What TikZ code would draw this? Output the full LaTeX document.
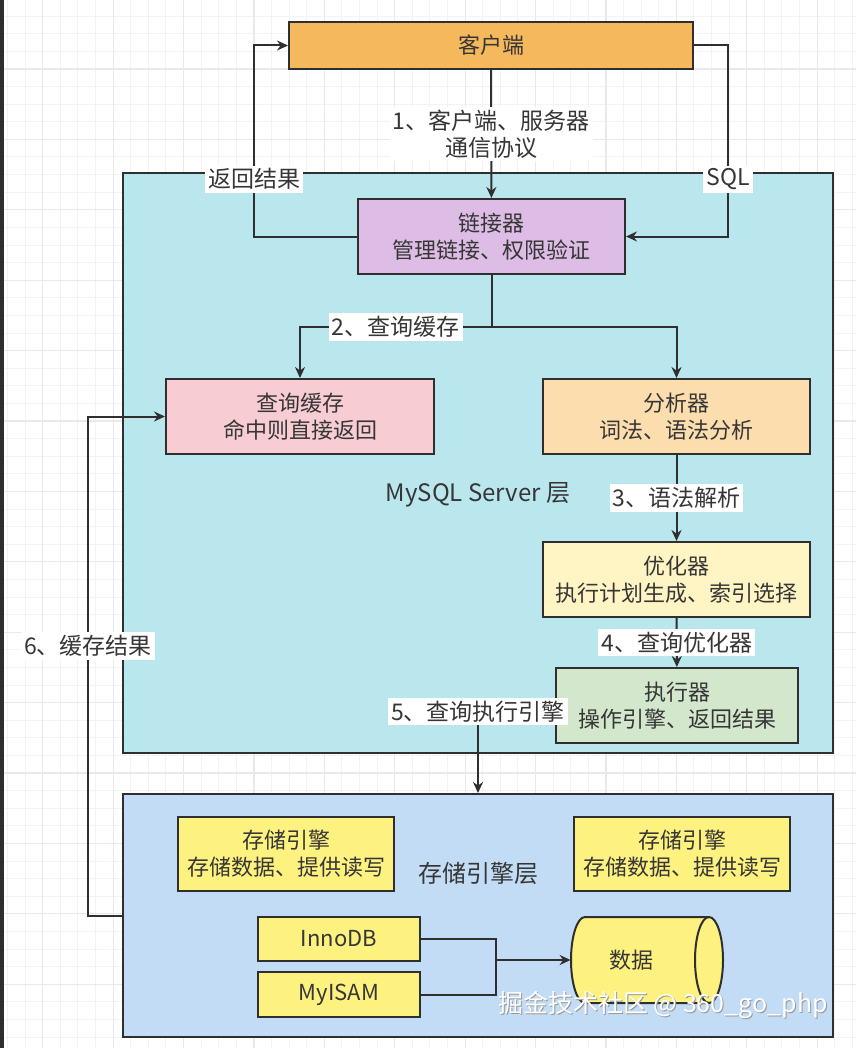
\documentclass[tikz,border=0pt]{standalone}
\usepackage{fontspec}
\setmainfont{Noto Sans CJK SC}
\usetikzlibrary{arrows.meta}
\definecolor{txtc}{HTML}{363636}
\definecolor{linec}{HTML}{2F2F2F}
\definecolor{clientc}{HTML}{F5B85D}
\definecolor{connc}{HTML}{DDBDE5}
\definecolor{serverc}{HTML}{BAE6EE}
\definecolor{cachec}{HTML}{F7CDD3}
\definecolor{analyc}{HTML}{FBDDAE}
\definecolor{optc}{HTML}{FFF4C4}
\definecolor{execc}{HTML}{D3E7CD}
\definecolor{storec}{HTML}{C2DCF5}
\definecolor{enginec}{HTML}{FDF17F}
\definecolor{gridminor}{HTML}{F3F3F3}
\definecolor{gridmajor}{HTML}{E9E9E9}
\definecolor{barc}{HTML}{2E2E2E}

\begin{document}
\begin{tikzpicture}[x=0.5pt, y=-0.5pt,
        font=\fontsize{11.5}{13.5}\selectfont, text=txtc,
        box/.style={draw=linec, line width=1pt, inner sep=0pt, align=center, minimum height=37.5pt,
            font=\fontsize{11}{13.5}\selectfont},
        layerbox/.style={draw=linec, line width=1pt, inner sep=0pt},
        line/.style={draw=linec, line width=1pt},
        arr/.style={line, -{Stealth[length=5.5pt, width=5pt]}},
        lbl/.style={fill=white, inner sep=1.5pt, align=center}]
    \useasboundingbox (0,0) rectangle (856,1048);
    \fill[white] (0,0) rectangle (856,1048);

    % grid
    \foreach \i in {0,...,48}
        \draw[gridminor, line width=0.5pt] ({7.5+17.6*\i},0) -- ({7.5+17.6*\i},1048);
    \foreach \i in {-3,...,55}
        \draw[gridminor, line width=0.5pt] (0,{69+17.6*\i}) -- (856,{69+17.6*\i});
    \foreach \i in {0,...,11}
        \draw[gridmajor, line width=0.6pt] ({42.7+70.4*\i},0) -- ({42.7+70.4*\i},1048);
    \foreach \i in {-1,...,14}
        \draw[gridmajor, line width=0.6pt] (0,{69+70.4*\i}) -- (856,{69+70.4*\i});
    \fill[barc] (0,0) rectangle (4,1048);

    % layers
    \node[layerbox, fill=serverc, minimum width=355pt, minimum height=290pt] (server) at (478,463) {};
    \node[layerbox, fill=storec, minimum width=355pt, minimum height=121.5pt] (storage) at (478,915.5) {};
    \node[font=\fontsize{12}{14}\selectfont] (serverlbl) at (478,495) {MySQL Server 层};
    \node[font=\fontsize{12}{14}\selectfont] (storagelbl) at (478,873) {存储引擎层};

    % server side
    \node[box, fill=clientc, minimum width=202pt, minimum height=23.5pt] (client) at (491,45.5) {客户端};
    \node[box, fill=connc, minimum width=133.5pt] (conn) at (491.5,236.5) {链接器\\管理链接、权限验证};
    \node[box, fill=cachec, minimum width=134pt] (cache) at (300,416.5) {查询缓存\\命中则直接返回};
    \node[box, fill=analyc, minimum width=133.5pt] (analyzer) at (676.5,416.5) {分析器\\词法、语法分析};
    \node[box, fill=optc, minimum width=133.5pt] (optimizer) at (676.5,579.5) {优化器\\执行计划生成、索引选择};
    \node[box, fill=execc, minimum width=121pt] (exec) at (677,705.5) {执行器\\操作引擎、返回结果};

    % storage side
    \node[box, fill=enginec, minimum width=108pt, minimum height=37pt] (engine1) at (286,854) {存储引擎\\存储数据、提供读写};
    \node[box, fill=enginec, minimum width=108pt, minimum height=37pt] (engine2) at (682,854) {存储引擎\\存储数据、提供读写};
    \node[box, fill=enginec, minimum width=81pt, minimum height=22pt] (innodb) at (339,939) {InnoDB};
    \node[box, fill=enginec, minimum width=81pt, minimum height=22.5pt] (myisam) at (339,994.5) {MyISAM};

    \draw[line, fill=enginec] (585,917) -- (709,917)
        arc[start angle=90, end angle=-90, x radius=7pt, y radius=21.5pt] -- (585,1003)
        arc[start angle=270, end angle=90, x radius=7pt, y radius=21.5pt] -- cycle;
    \draw[line] (709,917) arc[start angle=90, end angle=270, x radius=7pt, y radius=21.5pt];
    \node[inner sep=0pt, minimum width=76pt, minimum height=43pt,
        label={[xshift=-8pt, font=\fontsize{11}{13.5}\selectfont]center:数据}] (data) at (647,960) {};

    % connectors
    \coordinate (retc) at (254,45.5);
    \coordinate (sqlc) at (728,236.5);
    \coordinate (split) at (491.5,327);
    \coordinate (c6) at (88,416.5);
    \coordinate (join) at (496,960);

    \draw[arr] (client) -- node[lbl] {1、客户端、服务器\\通信协议} (conn);
    \draw[arr] (conn.west) -| node[lbl, pos=0.65] {返回结果} (retc) -- (client.west);
    \draw[arr] (client.east) -| node[lbl, pos=0.85] {SQL} (sqlc) -- (conn.east);
    \draw[line] (conn.south) -- (split);
    \draw[arr] (split) -| node[lbl, pos=0.25] {2、查询缓存} (cache.north);
    \draw[arr] (split) -| (analyzer.north);
    \draw[arr] (analyzer) -- node[lbl] {3、语法解析} (optimizer);
    \draw[arr] (optimizer) -- node[lbl] {4、查询优化器} (exec);
    \draw[arr] (exec.west) -| node[lbl, pos=0.5, yshift=-3pt] {5、查询执行引擎} (storage.north);
    \draw[arr] (storage.west) -| node[lbl, pos=0.77] {6、缓存结果} (c6) -- (cache.west);
    \draw[line] (innodb.east) -| (join);
    \draw[line] (myisam.east) -| (join);
    \draw[arr] (join) -- (data.west);

    % watermark
    \node[text=gray!80, font=\fontsize{12.5}{14}\selectfont] (wmshadow) at (664,1006) {掘金技术社区 @ 360\_go\_php};
    \node[text=white, font=\fontsize{12.5}{14}\selectfont] (wm) at (663,1005) {掘金技术社区 @ 360\_go\_php};
\end{tikzpicture}
\end{document}
